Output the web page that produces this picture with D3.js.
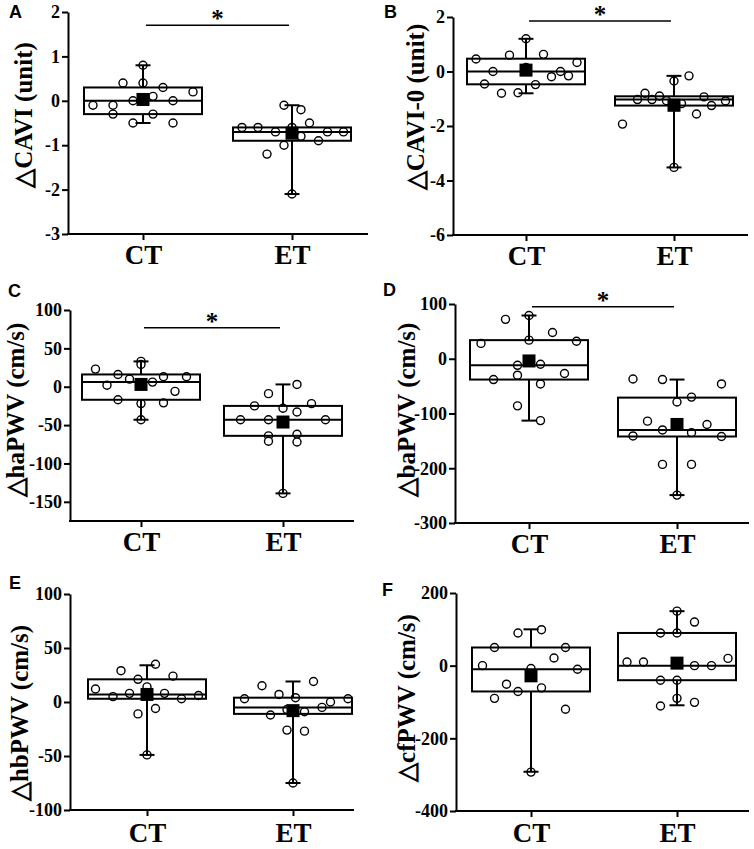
<!DOCTYPE html>
<meta charset="utf-8">
<style>
  body { margin: 0; background: #fff; }
  svg text { font-family: 'Liberation Serif', 'Times New Roman', serif; font-weight: bold; fill: #000; }
  .panelId { font-family: 'Liberation Sans', Arial, sans-serif; font-size: 18px; }
  .yLabel { font-size: 25px; }
  .star { font-size: 25px; }
</style>
<body>
<div id="chart"></div>
<script src="https://d3js.org/d3.v7.min.js"></script>
<script>
// categories and panel texts
var groups = ["CT", "ET"];
var panelIds = ["A", "B", "C", "D", "E", "F"];
var yLabels = ["△CAVI (unit)", "△CAVI-0 (unit)", "△haPWV (cm/s)", "△baPWV (cm/s)", "△hbPWV (cm/s)", "△cfPWV (cm/s)"];
var yTicks = [
  [2, 1, 0, -1, -2, -3],
  [2, 0, -2, -4, -6],
  [100, 50, 0, -50, -100, -150],
  [100, 0, -100, -200, -300],
  [100, 50, 0, -50, -100],
  [200, 0, -200, -400]
];
var yMins = [-3, -6, -175, -300, -100, -400];
var yMaxs = [2, 2, 100, 100, 100, 200];
// value of the significance bar (null = none)
var sigLevels = [1.7, 1.85, 77, 95, null, null];

// individual points (jitter = sideways slot, -1..1)
var ctA = [-0.1, -0.1, -0.3, 0.4, -0.5, 0, 0.8, 0.4, 0.1, -0.3, 0.3, 0, -0.5, 0.2];
var ctAJit = [-1, -0.6, -0.6, -0.4, -0.2, -0.2, 0, 0, 0.2, 0.2, 0.4, 0.6, 0.6, 1];
var etA = [-0.6, -0.6, -1.2, -0.7, -1.0, -0.1, -0.6, -2.1, -0.2, -0.8, -0.5, -0.9, -0.7, -0.7];
var etAJit = [-1, -0.68, -0.5, -0.33, -0.16, -0.16, 0, 0, 0.18, 0.18, 0.35, 0.53, 0.71, 1.03];

var ctB = [0.46, -0.46, 0, -0.8, 0.6, -0.78, 1.2, 0.15, -0.48, 0.63, -0.19, 0, -0.16, 0.33];
var ctBJit = [-1, -0.83, -0.66, -0.49, -0.33, -0.16, 0, 0, 0.19, 0.35, 0.51, 0.69, 0.85, 1.02];
var etB = [-1.93, -1.03, -0.8, -1.03, -0.9, -1.07, -0.35, -3.52, -1.18, -0.16, -1.56, -0.93, -1.25, -1.08];
var etBJit = [-1.03, -0.73, -0.58, -0.44, -0.29, -0.15, 0, 0, 0.15, 0.3, 0.45, 0.6, 0.75, 1.03];

var ctC = [23, 2, 16, -17, 10, 33, 29, -22, -43, 6, 13, -21, -6, 13];
var ctCJit = [-0.91, -0.68, -0.46, -0.46, -0.23, 0, 0, 0, 0, 0.23, 0.45, 0.45, 0.68, 0.91];
var etC = [-43, -25, -9, -43, -64, -71, -28, -139, -33, -62, -72, 3, -22, -43];
var etCJit = [-0.85, -0.57, -0.29, -0.29, -0.29, -0.29, 0, 0, 0.28, 0.28, 0.28, 0.28, 0.57, 0.85];

var ctD = [28, -38, 72, -12, -30, -86, 79, 34, -10, -46, -113, 48, -27, 32];
var ctDJit = [-0.96, -0.71, -0.47, -0.23, -0.23, -0.23, 0, 0, 0.23, 0.23, 0.23, 0.47, 0.71, 0.95];
var etD = [-37, -141, -114, -38, -130, -193, -79, -249, -70, -135, -193, -120, -46, -142];
var etDJit = [-0.88, -0.88, -0.59, -0.29, -0.29, -0.29, 0, 0, 0.29, 0.29, 0.29, 0.6, 0.89, 0.89];

var ctE = [12, 5, 29, 8, 21, -11, 14, -49, 35, -6, 8, 24, 3, 6];
var ctEJit = [-1.03, -0.68, -0.52, -0.35, -0.18, -0.18, 0, 0, 0.17, 0.17, 0.35, 0.52, 0.69, 1.03];
var etE = [3, 15, -12, 7, -7, -26, 4, -75, -9, -27, 19, -5, 0, 3];
var etEJit = [-0.97, -0.62, -0.45, -0.28, -0.12, -0.12, 0.05, 0, 0.23, 0.23, 0.41, 0.58, 0.75, 1.1];

var ctF = [0, 50, -90, -51, 90, -71, -8, -293, 99, -61, 21, 50, -120, -10];
var ctFJit = [-0.97, -0.73, -0.73, -0.49, -0.26, -0.26, 0, 0, 0.21, 0.21, 0.46, 0.69, 0.69, 0.93];
var etF = [10, 10, 90, -40, -111, 150, 90, -40, -90, 120, 0, -101, 0, 20];
var etFJit = [-1, -0.67, -0.33, -0.33, -0.33, 0, 0, 0, 0, 0.35, 0.35, 0.35, 0.69, 1.02];

// box stats per panel: [q1, median, q3, min, max, mean]
var boxCT = [
  [-0.3, 0, 0.3, -0.5, 0.8, 0.03],
  [-0.47, 0, 0.47, -0.8, 1.2, 0.05],
  [-17, 6, 16, -43, 33, 3],
  [-38, -12, 34, -113, 79, -4],
  [3, 7, 21, -49, 34, 7],
  [-71, -10, 50, -292, 100, -28]
];
var boxET = [
  [-0.9, -0.7, -0.6, -2.1, -0.1, -0.73],
  [-1.25, -1.03, -0.91, -3.52, -0.16, -1.24],
  [-64, -43, -25, -139, 3, -46],
  [-142, -130, -71, -249, -38, -120],
  [-11, -5, 4, -75, 19, -8],
  [-40, 0, 90, -109, 150, 7]
];

var ctValues = [ctA, ctB, ctC, ctD, ctE, ctF];
var ctJitter = [ctAJit, ctBJit, ctCJit, ctDJit, ctEJit, ctFJit];
var etValues = [etA, etB, etC, etD, etE, etF];
var etJitter = [etAJit, etBJit, etCJit, etDJit, etEJit, etFJit];

// page layout of each panel (pixels)
var layout = [
  { ax: 68, top: 12, bottom: 234, right: 368, ct: 143, et: 292, gp: 5, lx: 32, ly: 115, idx: 9, idy: 18 },
  { ax: 453, top: 17, bottom: 235, right: 748, ct: 526, et: 674, gp: 5, lx: 424, ly: 107, idx: 384, idy: 18 },
  { ax: 70, top: 310, bottom: 521, right: 354, ct: 141, et: 283, gp: 5, lx: 24, ly: 410, idx: 8, idy: 297 },
  { ax: 455, top: 304, bottom: 523, right: 749, ct: 529, et: 677, gp: 5, lx: 415, ly: 410, idx: 383, idy: 296 },
  { ax: 70, top: 594, bottom: 810, right: 354, ct: 147, et: 293, gp: 7, lx: 28, ly: 713, idx: 9, idy: 589 },
  { ax: 456, top: 593, bottom: 811, right: 749, ct: 531, et: 677, gp: 6, lx: 415, ly: 698, idx: 382, idy: 596 }
];

var boxHalf = 59, capHalf = 7.5, meanHalf = 6.5, dotR = 4;
var serif = "'Liberation Serif', 'Times New Roman', serif";

var svg = d3.select("#chart")
  .append("svg")
  .attr("width", 754)
  .attr("height", 849);

var jitter = d3.scaleLinear().domain([-1, 1]).range([-50, 50]);

panelIds.forEach(function(id, i) {
  var L = layout[i];
  var g = svg.append("g");

  var y = d3.scaleLinear()
    .domain([yMins[i], yMaxs[i]])
    .range([L.bottom, L.top]);
  var x = d3.scalePoint()
    .domain(groups)
    .range([L.ct, L.et]);

  // y axis
  var ya = g.append("g")
    .attr("transform", "translate(" + L.ax + ",0)")
    .call(d3.axisLeft(y).tickValues(yTicks[i]).tickFormat(function(d) { return String(d); })
      .tickSize(6).tickSizeOuter(0).tickPadding(2));
  ya.selectAll("line").attr("stroke-width", 2);
  ya.select(".domain").attr("stroke-width", 2);
  ya.selectAll("text")
    .style("font-family", serif)
    .style("font-weight", "bold")
    .style("font-size", "18px");

  // x axis
  var xa = g.append("g")
    .attr("transform", "translate(0," + L.bottom + ")")
    .call(d3.axisBottom(x).tickSize(6).tickPadding(L.gp));
  xa.select(".domain").remove();
  xa.selectAll("line").attr("stroke-width", 2);
  xa.selectAll("text")
    .style("font-family", serif)
    .style("font-weight", "bold")
    .style("font-size", "27px");
  g.append("line")
    .attr("x1", L.ax - 1).attr("x2", L.right)
    .attr("y1", L.bottom).attr("y2", L.bottom)
    .attr("stroke", "#000").attr("stroke-width", 2);

  // points
  [[ctValues[i], ctJitter[i], "CT"], [etValues[i], etJitter[i], "ET"]].forEach(function(s) {
    g.selectAll(null)
      .data(s[0])
      .enter()
      .append("circle")
      .attr("cx", function(d, k) { return x(s[2]) + jitter(s[1][k]); })
      .attr("cy", function(d) { return y(d); })
      .attr("r", dotR)
      .attr("fill", "#fff")
      .attr("stroke", "#000")
      .attr("stroke-width", 1.4);
  });

  // boxes and whiskers
  [[boxCT[i], "CT"], [boxET[i], "ET"]].forEach(function(b) {
    var s = b[0], cx = x(b[1]);
    g.append("rect")
      .attr("x", cx - boxHalf).attr("width", boxHalf * 2)
      .attr("y", y(s[2])).attr("height", y(s[0]) - y(s[2]))
      .attr("fill", "none").attr("stroke", "#000").attr("stroke-width", 2);
    g.append("line")
      .attr("x1", cx - boxHalf).attr("x2", cx + boxHalf)
      .attr("y1", y(s[1])).attr("y2", y(s[1]))
      .attr("stroke", "#000").attr("stroke-width", 2);
    [[s[2], s[4]], [s[0], s[3]]].forEach(function(w) {
      g.append("line")
        .attr("x1", cx).attr("x2", cx)
        .attr("y1", y(w[0])).attr("y2", y(w[1]))
        .attr("stroke", "#000").attr("stroke-width", 2);
      g.append("line")
        .attr("x1", cx - capHalf).attr("x2", cx + capHalf)
        .attr("y1", y(w[1])).attr("y2", y(w[1]))
        .attr("stroke", "#000").attr("stroke-width", 2);
    });
    g.append("rect")
      .attr("x", cx - meanHalf).attr("y", y(s[5]) - meanHalf)
      .attr("width", meanHalf * 2).attr("height", meanHalf * 2)
      .attr("fill", "#000");
  });

  // significance bar
  if (sigLevels[i] !== null) {
    var sy = y(sigLevels[i]);
    g.append("line")
      .attr("x1", x("CT") + 3).attr("x2", x("ET") - 3)
      .attr("y1", sy).attr("y2", sy)
      .attr("stroke", "#000").attr("stroke-width", 1.5);
    g.append("text")
      .attr("class", "star")
      .attr("x", (x("CT") + x("ET")) / 2)
      .attr("y", sy + 2)
      .attr("text-anchor", "middle")
      .text("*");
  }

  // y label
  g.append("text")
    .attr("class", "yLabel")
    .attr("transform", "translate(" + L.lx + "," + L.ly + ") rotate(-90)")
    .attr("text-anchor", "middle")
    .text(yLabels[i]);

  // panel letter
  g.append("text")
    .attr("class", "panelId")
    .attr("x", L.idx)
    .attr("y", L.idy)
    .text(id);
});
</script>
</body>
